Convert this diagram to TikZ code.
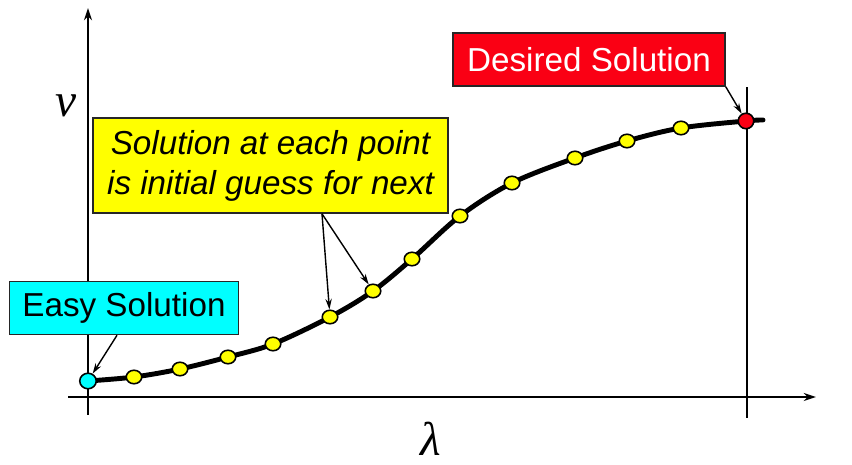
\documentclass[tikz,border=0pt]{standalone}
\usepackage{fontspec}
\setmainfont{Liberation Sans}
\newfontfamily\tmsfont{Liberation Serif}
\usetikzlibrary{arrows.meta,positioning,calc,shapes.geometric}
\definecolor{easycyan}{RGB}{0,255,255}
\definecolor{guessyellow}{RGB}{255,255,0}
\definecolor{goalred}{RGB}{250,0,20}

\begin{document}
\begin{tikzpicture}[x=0.02cm,y=-0.02cm,
  axis/.style={line width=1.2pt, -{Stealth[length=7pt,width=4.5pt]}},
  curve/.style={line width=2.8pt, line cap=round},
  dot/.style={ellipse, draw, line width=0.9pt, inner sep=0pt, minimum width=0.31cm, minimum height=0.27cm},
  box/.style={draw=black!85, line width=0.9pt, inner sep=0pt, font=\fontsize{18.9}{22.8}\selectfont},
  pointer/.style={line width=0.8pt, -{Stealth[length=6pt,width=3.6pt]}},
  varlab/.style={font=\tmsfont\itshape\fontsize{27}{30}\selectfont, inner sep=0pt}]
  \useasboundingbox (0,0) rectangle (852,465);

  % axes
  \draw[axis] (88,415) -- (88,8);
  \draw[axis] (68,397) -- (816,397);
  \draw[line width=1.2pt] (747,418) -- (747,87);
  \node[varlab] (vlab) at (66,106) {v};
  \node[varlab] (lamlab) at (431,439) {λ};

  % points on the path
  \foreach \px/\py [count=\i from 0] in {88/381, 134/377, 180/369, 228/357, 273/344,
      330/317, 373/291, 412/259, 460/216, 512/183, 575/158, 627/141, 681/128, 746/121}
    \coordinate (c\i) at (\px,\py);
  \coordinate (cend) at (763,120);
  \draw[curve] plot[smooth, tension=0.55] coordinates {(c0) (c1) (c2) (c3) (c4) (c5) (c6)
      (c7) (c8) (c9) (c10) (c11) (c12) (c13) (cend)};

  \node[dot, fill=easycyan, minimum width=0.33cm, minimum height=0.31cm] (p0) at (c0) {};
  \foreach \i in {1,...,12}
    \node[dot, fill=guessyellow] (p\i) at (c\i) {};
  \node[dot, fill=goalred, minimum width=0.31cm, minimum height=0.31cm] (p13) at (c13) {};

  % labels
  \node[box, fill=easycyan, minimum width=4.58cm, minimum height=1.06cm] (easy) at (124,308) {Easy Solution};
  \node[box, fill=guessyellow, minimum width=7.1cm, minimum height=1.9cm, align=center,
    font=\fontsize{18.9}{22.8}\selectfont\itshape] (note) at (270.5,165.5)
    {Solution at each point\\is initial guess for next};
  \node[box, fill=goalred, text=white, minimum width=5.44cm, minimum height=1.06cm] (desired) at (589,59.5) {Desired Solution};

  \draw[pointer] ([xshift=-0.14cm]easy.south) -- (p0);
  \draw[pointer] ([xshift=1.03cm]note.south) -- (p5);
  \draw[pointer] ([xshift=1.03cm]note.south) -- (p6);
  \draw[pointer] (desired.south east) -- (p13);
\end{tikzpicture}
\end{document}
